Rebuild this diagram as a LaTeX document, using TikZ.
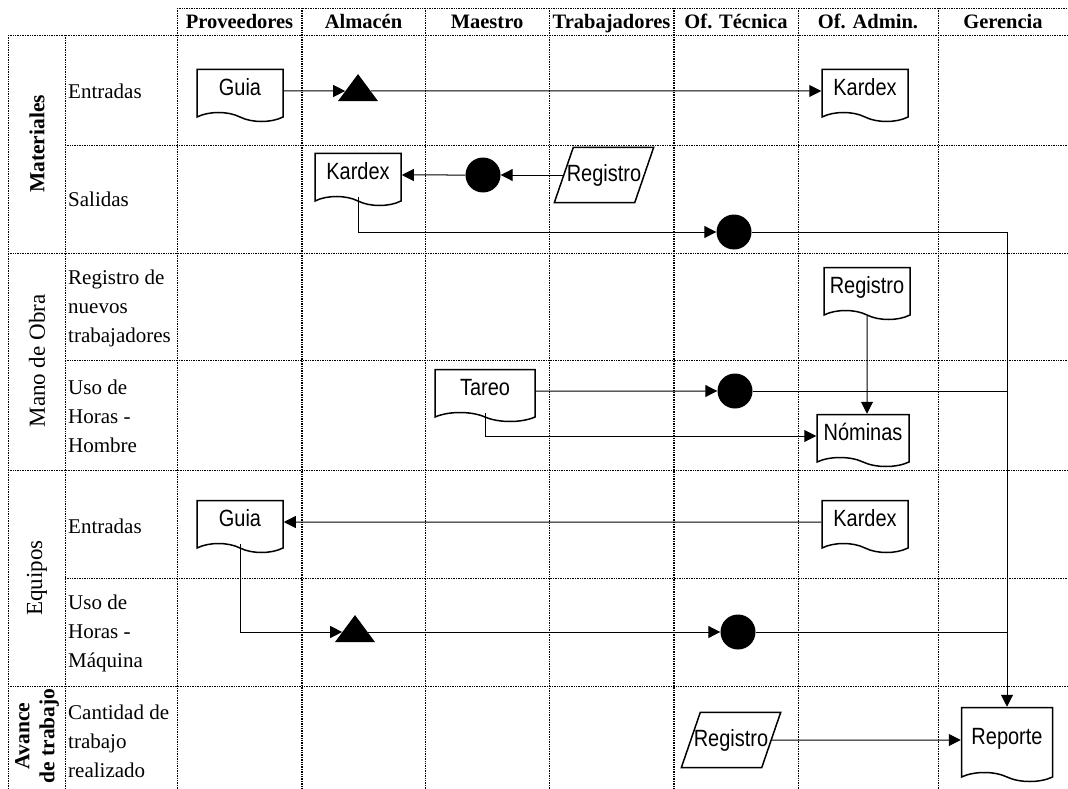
\documentclass[tikz,border=0pt]{standalone}
\usepackage{fontspec}
\setmainfont{Liberation Serif}
\newfontfamily\cajafont[FakeStretch=0.85]{Liberation Sans}
\usetikzlibrary{shapes.geometric, shapes.symbols, arrows.meta}

\tikzset{
  rejilla/.style={densely dotted, line width=0.7pt},
  doc/.style={tape, draw, fill=white, line width=1.5pt, tape bend top=none,
    tape bend bottom=out and in, tape bend height=9pt, inner sep=0pt,
    minimum width=86pt, minimum height=52pt, text depth=8pt,
    font=\cajafont\fontsize{23.5}{25}\selectfont},
  datos/.style={rectangle, minimum width=80pt, minimum height=55pt, inner sep=0pt,
    font=\cajafont\fontsize{23.5}{25}\selectfont,
    append after command={\pgfextra{\draw[line width=1.5pt]
      ([xshift=9.5pt]\tikzlastnode.north west) -- ([xshift=9.5pt]\tikzlastnode.north east)
      -- ([xshift=-9.5pt]\tikzlastnode.south east) -- ([xshift=-9.5pt]\tikzlastnode.south west)
      -- cycle;}}},
  conector/.style={circle, fill, minimum size=35pt, inner sep=0pt},
  tri/.style={isosceles triangle, isosceles triangle stretches,
    shape border rotate=90, fill, inner sep=0pt, minimum width=40pt, minimum height=27pt},
  flecha/.style={-{Triangle[length=12pt,width=12pt]}, line width=1pt},
  linea/.style={line width=1pt},
  titulo/.style={anchor=base, font=\bfseries\fontsize{20.5}{24}\selectfont},
  fila/.style={anchor=west, align=left, inner sep=0pt, font=\fontsize{21}{29}\selectfont},
  grupo/.style={rotate=90, align=center, font=\fontsize{23}{25}\selectfont},
}

\begin{document}
\begin{tikzpicture}[x=1pt,y=-1pt]
\useasboundingbox (0,0) rectangle (1068,789);

% Rejilla de la tabla
\draw[rejilla] (177,8) -- (1068,8);
\foreach \y in {35,253,470,686} \draw[rejilla] (8,\y) -- (1068,\y);
\foreach \y in {145,360,578} \draw[rejilla] (65,\y) -- (1068,\y);
\foreach \x in {8,65} \draw[rejilla] (\x,35) -- (\x,789);
\foreach \x in {177,425,549,798,938} \draw[rejilla] (\x,8) -- (\x,789);
\foreach \x in {302,674} \draw[rejilla, line width=1.4pt] (\x,8) -- (\x,789);

% Encabezados de las columnas
\foreach \x/\txt [count=\i] in {239.5/Proveedores, 363.5/Almacén, 487/Maestro,
    611.5/Trabajadores, 736/Of. Técnica, 868/Of. Admin., 1003/Gerencia}
  \node[titulo] (enc\i) at (\x,29) {\txt};

% Grupos (texto vertical)
\node[grupo, font=\bfseries\fontsize{21.5}{25}\selectfont] (materiales) at (37,144) {Materiales};
\node[grupo] (manoobra) at (37,361) {Mano de Obra};
\node[grupo] (equipos) at (37,578) {Equipos};
\node[grupo, font=\bfseries\fontsize{21.5}{25}\selectfont] (avance) at (37,736) {Avance\\de trabajo};

% Filas
\node[fila] (fila1) at (68,91) {Entradas};
\node[fila] (fila2) at (68,199) {Salidas};
\node[fila] (fila3) at (68,308) {Registro de\\nuevos\\trabajadores};
\node[fila] (fila4) at (68,416) {Uso de\\Horas -\\Hombre};
\node[fila] (fila5) at (68,526) {Entradas};
\node[fila] (fila6) at (68,633) {Uso de\\Horas -\\Máquina};
\node[fila] (fila7) at (68,741) {Cantidad de\\trabajo\\realizado};

% Materiales
\node[doc] (guiaA) at (240,91) {Guia};
\node[tri] (tri1) at (358,91) {};
\node[doc] (kardexA) at (865,91) {Kardex};
\node[doc] (kardexB) at (358,175) {Kardex};
\node[conector] (circ1) at (483,175) {};
\node[datos] (regA) at (604,175) {Registro};
\node[conector] (circ2) at (734,232) {};

% Mano de obra
\node[doc] (regB) at (867,289) {Registro};
\node[doc, minimum width=100pt] (tareo) at (485,391) {Tareo};
\node[conector] (circ3) at (735,391) {};
\node[doc, minimum width=92pt] (nominas) at (863,436) {Nóminas};

% Equipos
\node[doc] (guiaB) at (240,522) {Guia};
\node[doc] (kardexC) at (865,522) {Kardex};
\node[tri] (tri2) at (355,632) {};
\node[conector] (circ4) at (738,632) {};

% Avance de trabajo
\node[datos] (regC) at (731,740) {Registro};
\node[doc, minimum width=91pt, minimum height=74pt] (reporte) at (1007,740) {Reporte};

% Conexiones
\draw[flecha] (guiaA) -- (tri1);
\draw[flecha] (tri1) -- (kardexA);
\draw[flecha] (regA) -- (circ1);
\draw[flecha] (circ1) -- (kardexB);
\draw[flecha] (kardexB.south) |- (circ2);
\draw[flecha] (circ2) -| (reporte.north);
\draw[flecha] (tareo) -- (circ3);
\draw[linea] (circ3) -- (circ3 -| reporte.north);
\draw[flecha] (tareo.south) |- (nominas);
\draw[flecha] (regB) -- (regB |- nominas.north);
\draw[flecha] (kardexC) -- (guiaB);
\draw[flecha] (guiaB.south) |- (tri2);
\draw[flecha] (tri2) -- (circ4);
\draw[linea] (circ4) -- (circ4 -| reporte.north);
\draw[flecha] (regC) -- (reporte);
\end{tikzpicture}
\end{document}
